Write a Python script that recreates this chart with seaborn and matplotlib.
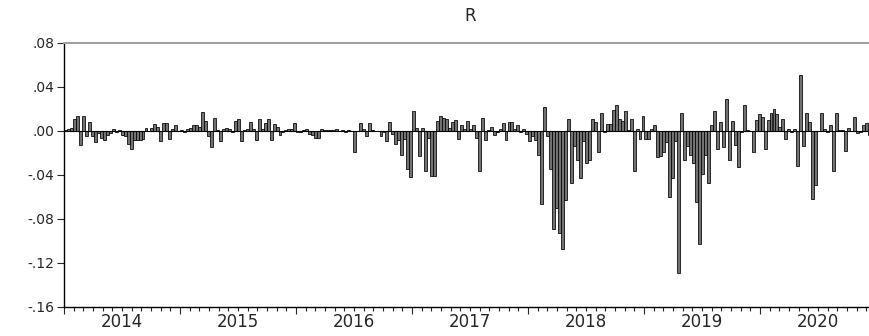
import numpy as np
import pandas as pd
import matplotlib
matplotlib.use('Agg')
import matplotlib.pyplot as plt
import seaborn as sns
from matplotlib.ticker import FixedLocator, FuncFormatter

# series R
r_2014_15 = [0.001, 0.002, 0.003, 0.011, 0.014, -0.013, 0.014, -0.005, 0.008, -0.005,
             -0.010, -0.002, -0.006, -0.008, -0.004, -0.002, 0.002, -0.001, 0.001, -0.004,
             -0.005, -0.012, -0.016, -0.008, -0.008, -0.008, -0.007, 0.003, 0.000, 0.003,
             0.006, 0.004, -0.009, 0.007, 0.007, -0.007, 0.002, 0.005, 0.000, 0.001,
             -0.001, 0.002, 0.003, 0.005, 0.005, 0.004, 0.017, 0.009, -0.005, -0.015,
             0.012, 0.001]
r_2015_16 = [-0.009, 0.002, 0.003, 0.002, -0.001, 0.009, 0.011, -0.009, 0.001, 0.002,
             0.008, 0.002, -0.008, 0.011, 0.002, 0.007, 0.011, -0.008, 0.006, 0.004,
             -0.004, -0.001, 0.001, 0.002, 0.002, 0.007, -0.001, -0.001, 0.001, 0.002,
             -0.003, -0.004, -0.006, -0.006, 0.002, 0.001, 0.001, 0.001, 0.001, 0.002,
             0.000, 0.001, -0.001, 0.001, 0.000, -0.019, 0.000, 0.007, 0.002, -0.005,
             0.007, 0.001, 0.000, 0.000, -0.005]
r_2016_17 = [-0.001, -0.009, 0.008, -0.003, -0.012, -0.008, -0.022, -0.007, -0.035, -0.042,
             0.018, 0.003, -0.023, 0.003, -0.036, -0.006, -0.041, -0.041, 0.009, 0.014,
             0.012, 0.011, 0.003, 0.008, 0.010, -0.007, 0.005, 0.002, 0.009, 0.002,
             0.005, -0.006, -0.036, 0.012, -0.008, 0.001, 0.004, -0.004, -0.001, 0.002,
             0.007, -0.008, 0.008, 0.008, 0.002, 0.005, -0.001, 0.002, -0.003, -0.009,
             -0.005, -0.008]
r_2018_19 = [-0.022, -0.066, 0.022, -0.005, -0.035, -0.089, -0.070, -0.093, -0.107, -0.063,
             0.011, -0.047, -0.014, -0.026, -0.043, -0.009, -0.029, -0.026, 0.011, 0.008,
             -0.019, 0.016, -0.001, 0.006, 0.006, 0.019, 0.024, 0.011, 0.009, 0.018,
             0.001, 0.011, -0.036, 0.002, -0.007, 0.014, -0.007, -0.007, 0.002, 0.005,
             -0.024, -0.023, -0.019, -0.010, -0.060, -0.043, -0.009, -0.129, 0.016, -0.026,
             -0.014, -0.022, -0.029, -0.065, -0.103]
r_2019_20 = [-0.039, -0.022, -0.047, 0.005, 0.018, -0.016, 0.008, -0.015, 0.029, -0.026,
             0.009, -0.013, -0.033, -0.001, 0.024, 0.001, 0.000, -0.019, 0.010, 0.015,
             0.013, -0.016, 0.010, 0.016, 0.020, 0.015, 0.004, 0.011, -0.007, 0.002,
             -0.001, 0.002, -0.032, 0.051, -0.014, 0.016, 0.008, -0.062, -0.049, 0.000,
             0.016, 0.002, -0.001, 0.005, -0.036, 0.016, 0.001, 0.001, -0.018, 0.003,
             0.000, 0.013, -0.002, -0.001, 0.005, 0.007, -0.004]

years = [2014, 2015, 2016, 2017, 2018, 2019, 2020]
y_ticks = [0.08, 0.04, 0.00, -0.04, -0.08, -0.12, -0.16]

values = r_2014_15 + r_2015_16 + r_2016_17 + r_2018_19 + r_2019_20
dates = pd.date_range('2014-01-06', '2020-12-10', periods=len(values))
days_in_year = np.where(dates.is_leap_year, 366.0, 365.0)
t = dates.year + (dates.dayofyear - 1 + dates.hour / 24.0) / days_in_year
df = pd.DataFrame({'t': np.asarray(t), 'R': values})

sns.set_style('ticks')
plt.rcParams['font.family'] = ['DejaVu Sans']

fig = plt.figure(figsize=(8.69, 3.36), dpi=100)
ax = fig.add_axes([64 / 869, 29 / 336, 812 / 869, 264 / 336])

sns.barplot(data=df, x='t', y='R', native_scale=True, width=1.0,
            color='#727272', saturation=1, edgecolor='black', linewidth=0.55,
            errorbar=None, ax=ax)
ax.axhline(0, color='black', lw=0.8, zorder=3)

ax.set_xlim(2014, 2021)
ax.set_ylim(-0.16, 0.08)
ax.set_xlabel('')
ax.set_ylabel('')

# year ticks + monthly minor ticks, labels centred in each year
ax.xaxis.set_major_locator(FixedLocator(years + [2021]))
ax.xaxis.set_minor_locator(FixedLocator([y + m / 12 for y in years for m in range(1, 12)]))
ax.tick_params(axis='x', which='major', length=5, width=0.8, labelbottom=False)
ax.tick_params(axis='x', which='minor', length=3, width=0.8)
for y in years:
    ax.text(y + 0.5, -0.057, str(y), transform=ax.get_xaxis_transform(),
            ha='center', va='center', fontsize=12)

ax.set_yticks(y_ticks)
ax.yaxis.set_major_formatter(FuncFormatter(lambda v, p: f'{v:.2f}'.replace('0.', '.')))
ax.tick_params(axis='y', length=5, width=0.8, labelsize=10, pad=2)

for side in ['left', 'bottom']:
    ax.spines[side].set_color('black')
    ax.spines[side].set_linewidth(1)
ax.spines['top'].set_color('#a0a0a0')
ax.spines['top'].set_linewidth(1.5)
ax.spines['right'].set_visible(False)

ax.set_title('R', fontsize=12, pad=16)

fig.savefig('out.png', dpi=100)
plt.close()
